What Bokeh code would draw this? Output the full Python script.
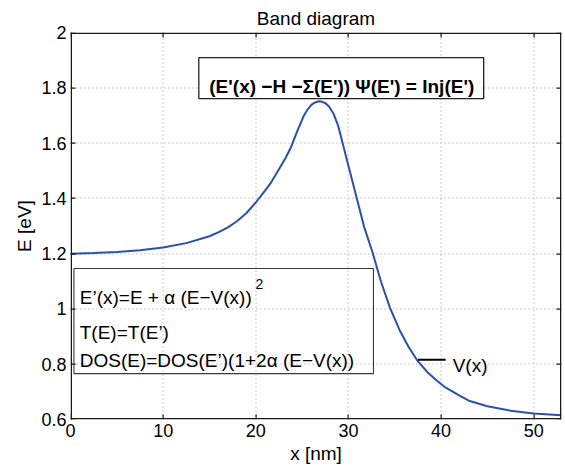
from bokeh.plotting import figure
from bokeh.models import Range1d, CustomJSTickFormatter, Label
from bokeh.embed import file_html
from bokeh.resources import INLINE

# ---- data ----
x_nm = [0, 2.5, 5, 7.5, 10, 12.5, 15, 16, 17, 18, 19, 20, 21, 21.6, 22.5, 23.2, 23.8,
        24.5, 25.2, 25.6, 26.0, 26.4, 26.8, 27.1, 27.5, 27.9, 28.4, 28.9, 29.35, 30.0,
        30.9, 31.7, 32.6, 33.5, 34.5, 35.5, 36.5, 37.4, 38.5, 39.5, 40.5, 42, 43, 45,
        47.5, 50, 53]
E_band = [1.200, 1.202, 1.206, 1.212, 1.222, 1.238, 1.263, 1.278, 1.295, 1.318, 1.347,
          1.385, 1.428, 1.455, 1.505, 1.545, 1.585, 1.645, 1.700, 1.722, 1.738, 1.747,
          1.751, 1.750, 1.745, 1.732, 1.706, 1.662, 1.603, 1.518, 1.400, 1.296, 1.205,
          1.100, 1.003, 0.925, 0.862, 0.815, 0.772, 0.742, 0.715, 0.686, 0.668, 0.648,
          0.632, 0.622, 0.615]
x_ticks = [0, 10, 20, 30, 40, 50]
y_ticks = [0.6, 0.8, 1.0, 1.2, 1.4, 1.6, 1.8, 2.0]
x_lim = [0, 53]
y_lim = [0.6, 2.0]
vx_marker_x = [37.5, 40.5]
vx_marker_E = [0.816, 0.816]

title_text = "Band diagram"
eq_text = "(E'(x) \u2212H \u2212\u03a3(E')) \u03a8(E') = Inj(E')"
box_lines = ["E\u2019(x)=E + \u03b1 (E\u2212V(x))",
             "T(E)=T(E\u2019)",
             "DOS(E)=DOS(E\u2019)(1+2\u03b1 (E\u2212V(x))"]
box_line_E = [1.042, 0.914, 0.813]

FONT = "Liberation Sans"
W, H = 565, 467
BL, BR, BT, BB = 70, 4, 32, 48
FW, FH = W - BL - BR, H - BT - BB

p = figure(width=W, height=H, x_range=Range1d(*x_lim), y_range=Range1d(*y_lim),
           output_backend="svg", toolbar_location=None,
           min_border_left=BL, min_border_right=BR, min_border_top=BT, min_border_bottom=BB)
p.outline_line_color = None
p.background_fill_color = "white"
p.border_fill_color = "white"
p.grid.visible = False

p.title.text = title_text
p.title.align = "center"
p.title.text_font = FONT
p.title.text_font_size = "19px"
p.title.text_font_style = "normal"
p.title.text_color = "black"
p.title.standoff = 8

# canvas pixel -> data conversions (frame spans BL..BL+FW, BT..BT+FH)
ux = (x_lim[1] - x_lim[0]) / FW
uy = (y_lim[1] - y_lim[0]) / FH


def dx(px):
    return x_lim[0] + (px - BL) * ux


def dy(py):
    return y_lim[1] - (py - BT) * uy


def col(v):
    return int(BL + (v - x_lim[0]) / ux)


def row(v):
    return int(BT + (y_lim[1] - v) / uy)


# dotted grid as 1px dots (filled quads)
gl, gr, gt, gb = [], [], [], []
for t in x_ticks:
    if x_lim[0] < t < x_lim[1]:
        c = col(t)
        for r in range(BT + 2, BT + FH - 1, 4):
            gl.append(dx(c)); gr.append(dx(c + 1)); gt.append(dy(r)); gb.append(dy(r + 1))
for v in y_ticks:
    if y_lim[0] < v < y_lim[1]:
        r = row(v)
        for c in range(BL + 2, BL + FW - 1, 4):
            gl.append(dx(c)); gr.append(dx(c + 1)); gt.append(dy(r)); gb.append(dy(r + 1))
p.quad(left=gl, right=gr, top=gt, bottom=gb, fill_color="#9a9a9a", line_color=None)

# equation box (white filled)
p.quad(left=[13.85], right=[44.6], bottom=[1.761], top=[1.909],
       fill_color="white", line_color="#222222", line_width=1.3)
# formula box (transparent)
p.quad(left=[0.37], right=[32.7], bottom=[0.766], top=[1.146],
       fill_color=None, line_color="#3a3a3a", line_width=1.1)

# curve
p.line(x_nm, E_band, line_color="#2b4fae", line_width=2)
p.line(vx_marker_x, vx_marker_E, line_color="black", line_width=2)

# frame and inward ticks as filled quads
fl, fr, ft, fb = [], [], [], []
th = 1.5
L, R, T, B = BL, BL + FW, BT, BT + FH
for (a, b, c, d) in [(L, L + th, T, B), (R - th, R, T, B), (L, R, T, T + th), (L, R, B - th, B)]:
    fl.append(dx(a)); fr.append(dx(b)); ft.append(dy(c)); fb.append(dy(d))
tick = 5
for t in x_ticks:
    c = col(t)
    for (r0, r1) in [(B - tick, B), (T, T + tick)]:
        fl.append(dx(c)); fr.append(dx(c + 1.2)); ft.append(dy(r0)); fb.append(dy(r1))
for v in y_ticks:
    r = row(v)
    for (c0, c1) in [(L, L + tick), (R - tick, R)]:
        fl.append(dx(c0)); fr.append(dx(c1)); ft.append(dy(r)); fb.append(dy(r + 1.2))
p.quad(left=fl, right=fr, top=ft, bottom=fb, fill_color="#1a1a1a", line_color=None)

# axes (labels only)
p.xaxis.ticker = x_ticks
p.yaxis.ticker = y_ticks
p.yaxis.formatter = CustomJSTickFormatter(code="return (Math.round(tick*10)/10).toString();")
for ax in (p.xaxis[0], p.yaxis[0]):
    ax.major_tick_in = 0
    ax.major_tick_out = 0
    ax.minor_tick_line_color = None
    ax.axis_line_color = None
    ax.major_tick_line_color = None
    ax.major_label_text_font = FONT
    ax.major_label_text_font_size = "18px"
    ax.major_label_text_color = "black"
    ax.major_label_standoff = 4
    ax.axis_label_text_font = FONT
    ax.axis_label_text_font_size = "19px"
    ax.axis_label_text_font_style = "normal"
    ax.axis_label_text_color = "black"
    ax.axis_label_standoff = 3
p.xaxis.axis_label = "x [nm]"
p.yaxis.axis_label = "E [eV]"

# texts
p.add_layout(Label(x=29.28, y=1.804, text=eq_text, text_align="center",
                   text_baseline="alphabetic", text_font=FONT, text_font_size="19px",
                   text_font_style="bold", text_color="black"))
for txt, ey in zip(box_lines, box_line_E):
    p.add_layout(Label(x=1.0, y=ey, text=txt, text_align="left",
                       text_baseline="alphabetic", text_font=FONT,
                       text_font_size="19px", text_color="black"))
p.add_layout(Label(x=19.97, y=1.09, text="2", text_align="left",
                   text_baseline="alphabetic", text_font=FONT,
                   text_font_size="14px", text_color="black"))
p.add_layout(Label(x=41.25, y=0.797, text="V(x)", text_align="left",
                   text_baseline="middle", text_font=FONT, text_font_size="19px",
                   text_color="black"))

open("out.html", "w").write(file_html(p, INLINE))
